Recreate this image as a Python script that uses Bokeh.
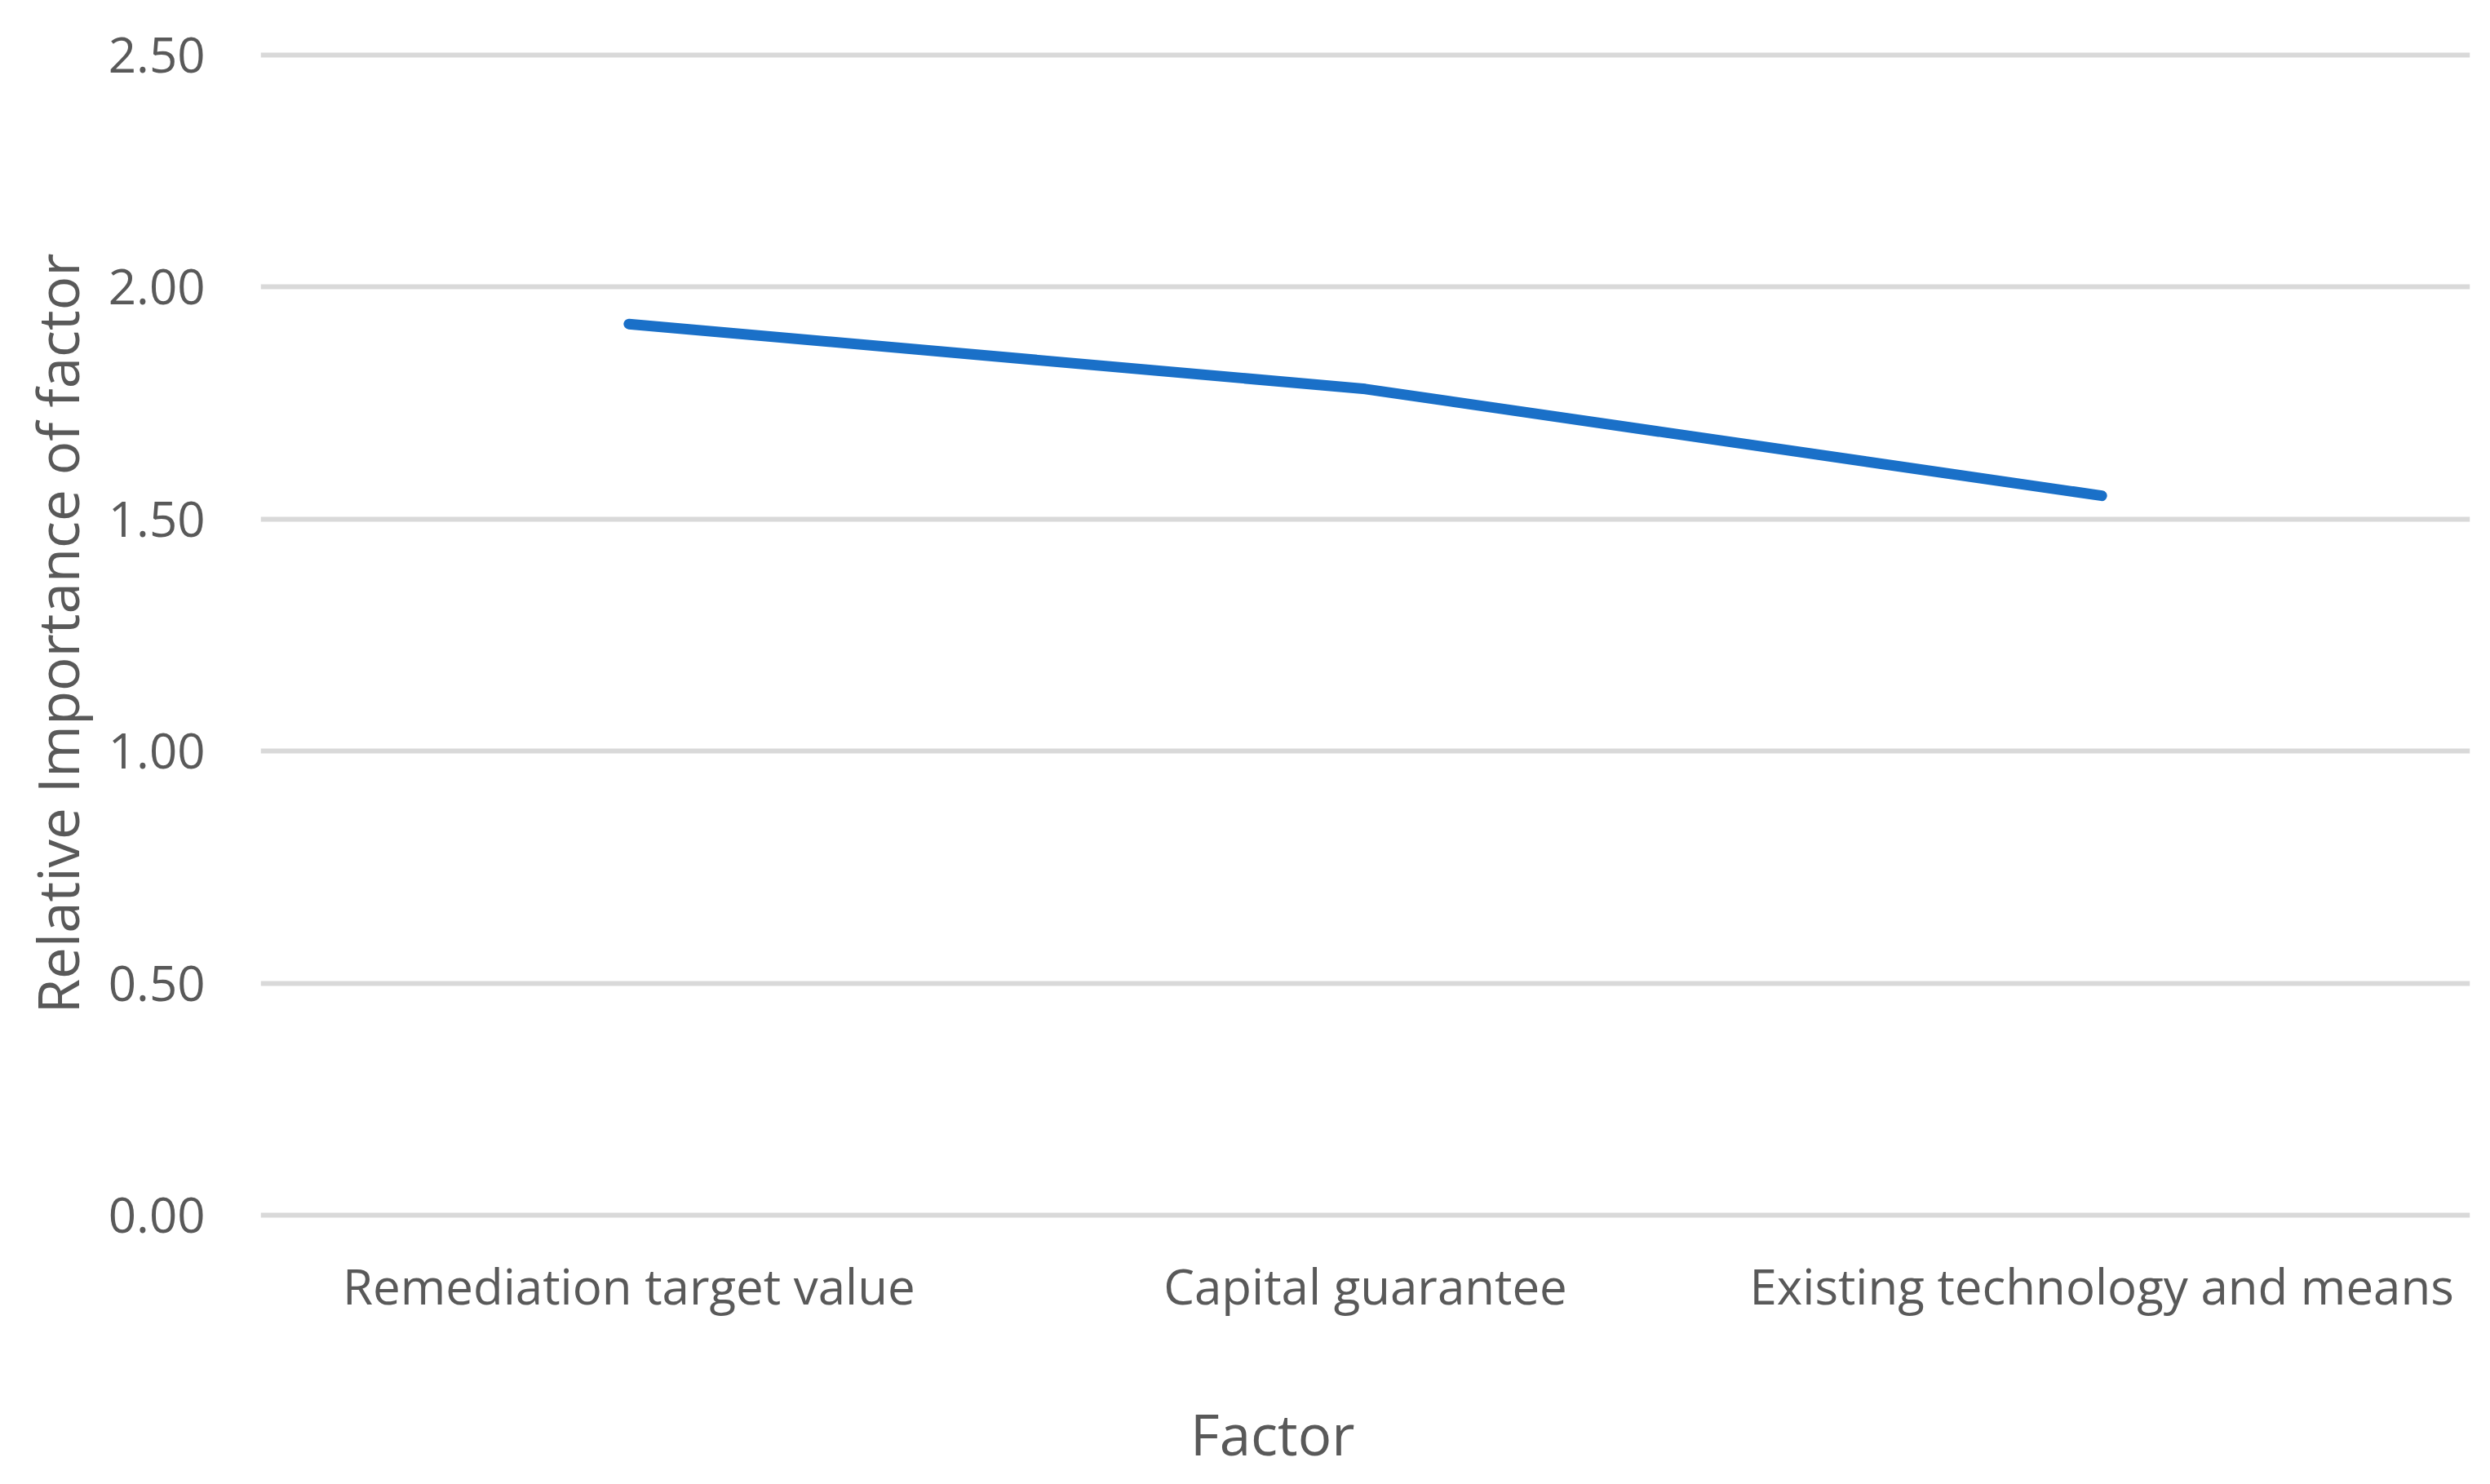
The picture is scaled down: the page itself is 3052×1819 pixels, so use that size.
from bokeh.plotting import figure
from bokeh.models import FactorRange, Range1d, FixedTicker, NumeralTickFormatter, Label, Title
from bokeh.embed import file_html
from bokeh.resources import INLINE

categories = ["Remediation target value", "Capital guarantee", "Existing technology and means"]
importance = [1.92, 1.78, 1.55]
y_ticks = [0.0, 0.5, 1.0, 1.5, 2.0, 2.5]

TEXT = "#595959"
FONT = "Open Sans"

p = figure(
    width=3052, height=1819,
    x_range=FactorRange(*categories),
    y_range=Range1d(-0.58, 2.51),
    output_backend="svg", toolbar_location=None,
    min_border_left=319, min_border_right=25, min_border_top=61, min_border_bottom=0,
)
p.outline_line_color = None
p.background_fill_color = "white"
p.border_fill_color = "white"

p.line(x=categories, y=importance, line_color="#1a70c8", line_width=13, line_cap="round", line_join="round")

p.yaxis.ticker = FixedTicker(ticks=y_ticks)
p.yaxis.formatter = NumeralTickFormatter(format="0.00")
for ax in (p.xaxis[0], p.yaxis[0]):
    ax.axis_line_color = None
    ax.major_tick_line_color = None
    ax.minor_tick_line_color = None
    ax.major_label_text_color = TEXT
    ax.major_label_text_font = FONT
    ax.major_label_text_font_size = "60px"

p.yaxis.major_label_standoff = 62

# y-axis title, centred on the 0-2.5 value span as in the original
ytitle = Title(text="Relative Importance of factor", align="left", offset=577, standoff=26,
               text_color=TEXT, text_font=FONT, text_font_size="69px", text_font_style="normal")
p.add_layout(ytitle, "left")

# category axis sits on the zero line
p.xaxis.fixed_location = 0
p.xaxis.major_label_standoff = 39

# x-axis title, centred under the whole chart area as in the original
xtitle = Label(x=1.374, y=-0.471, text="Factor", text_align="center", text_baseline="middle",
               text_color=TEXT, text_font=FONT, text_font_size="69px")
p.add_layout(xtitle)

p.xgrid.grid_line_color = None
p.ygrid.grid_line_color = "#d9d9d9"
p.ygrid.grid_line_width = 6

open("out.html", "w").write(file_html(p, INLINE))
